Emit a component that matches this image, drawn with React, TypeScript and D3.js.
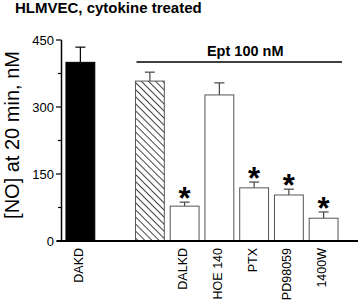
import React from "react";
import * as d3 from "d3";

const slots = ["DAKD", "_gap", "Ept", "DALKD", "HOE 140", "PTX", "PD98059", "1400W"];
const categories = ["DAKD", "Ept", "DALKD", "HOE 140", "PTX", "PD98059", "1400W"];
const values = [400, 358, 78, 327, 119, 103, 51];
const errors = [34, 20, 9, 27, 13, 13, 14];
const styles = ["solid", "hatch", "open", "open", "open", "open", "open"];
const showLabel = [true, false, true, true, true, true, true];
const significant = [false, false, true, false, true, true, true];
const yTicks = [0, 150, 300, 450];
const yMinor = [75, 225, 375];

const W = 360;
const H = 300;

export default function App() {
  const y = d3.scaleLinear().domain([0, 450]).range([241, 40]);
  const x = d3.scaleBand<string>().domain(slots).range([63, 341]).paddingInner(0.17).paddingOuter(0.085);
  const bw = x.bandwidth();
  const font = "Arial, 'Liberation Sans', Helvetica, sans-serif";
  const eptStart = x("Ept")! + 1;
  const eptEnd = 342;

  return (
    <svg width={W} height={H} style={{ position: "absolute", left: 0, top: 0, background: "#fff" }} fontFamily={font}>
      <defs>
        <pattern id="hatch" width="5" height="5" patternUnits="userSpaceOnUse" patternTransform="rotate(-45)">
          <line x1="0" y1="0" x2="0" y2="5" stroke="#444" strokeWidth="1" transform="translate(2.5,0)" />
        </pattern>
      </defs>
      <text x={15} y={13} fontSize={15} fontWeight="bold" fill="#000">HLMVEC, cytokine treated</text>

      <text transform={`translate(19,135) rotate(-90)`} textAnchor="middle" fontSize={20} fill="#000">[NO] at 20 min, nM</text>

      {/* y axis */}
      <line x1={61.5} x2={61.5} y1={y(450)} y2={y(0)} stroke="#000" strokeWidth={1.5} />
      {yTicks.map((t) => (
        <g key={t}>
          <line x1={56} x2={61.5} y1={y(t)} y2={y(t)} stroke="#000" strokeWidth={1.2} />
          <text x={54} y={y(t)} dy="0.35em" textAnchor="end" fontSize={13} fill="#000">{t}</text>
        </g>
      ))}
      {yMinor.map((t) => (
        <line key={t} x1={58} x2={61.5} y1={y(t)} y2={y(t)} stroke="#000" strokeWidth={1.2} />
      ))}

      {/* bars */}
      {categories.map((c, i) => {
        const x0 = x(c)!;
        const top = y(values[i]);
        const et = y(values[i] + errors[i]);
        const cx = x0 + bw / 2;
        const fill = styles[i] === "solid" ? "#000" : styles[i] === "hatch" ? "url(#hatch)" : "#fff";
        const stroke = styles[i] === "solid" ? "#000" : "#555";
        return (
          <g key={c}>
            <line x1={cx} x2={cx} y1={top} y2={et} stroke={styles[i] === "solid" ? "#000" : "#444"} strokeWidth={1.2} />
            <line x1={cx - 5} x2={cx + 5} y1={et} y2={et} stroke={styles[i] === "solid" ? "#000" : "#444"} strokeWidth={1.2} />
            <rect x={x0} y={top} width={bw} height={y(0) - top} fill={fill} stroke={stroke} strokeWidth={1} />
            {significant[i] && (
              <text x={cx} y={et + 7} textAnchor="middle" fontSize={31} fontWeight="bold" fill="#000">*</text>
            )}
            {showLabel[i] && (
              <text transform={`translate(${cx},248) rotate(-90)`} dy="0.2em" textAnchor="end" fontSize={12.5} fill="#000">{c}</text>
            )}
          </g>
        );
      })}

      {/* baseline */}
      <line x1={57} x2={358} y1={y(0)} y2={y(0)} stroke="#000" strokeWidth={2} />

      {/* Ept bracket */}
      <line x1={eptStart} x2={eptEnd} y1={62} y2={62} stroke="#000" strokeWidth={1.5} />
      <text x={(eptStart + eptEnd) / 2 + 6} y={56} textAnchor="middle" fontSize={14.5} fontWeight="bold" fill="#000">Ept 100 nM</text>
    </svg>
  );
}
